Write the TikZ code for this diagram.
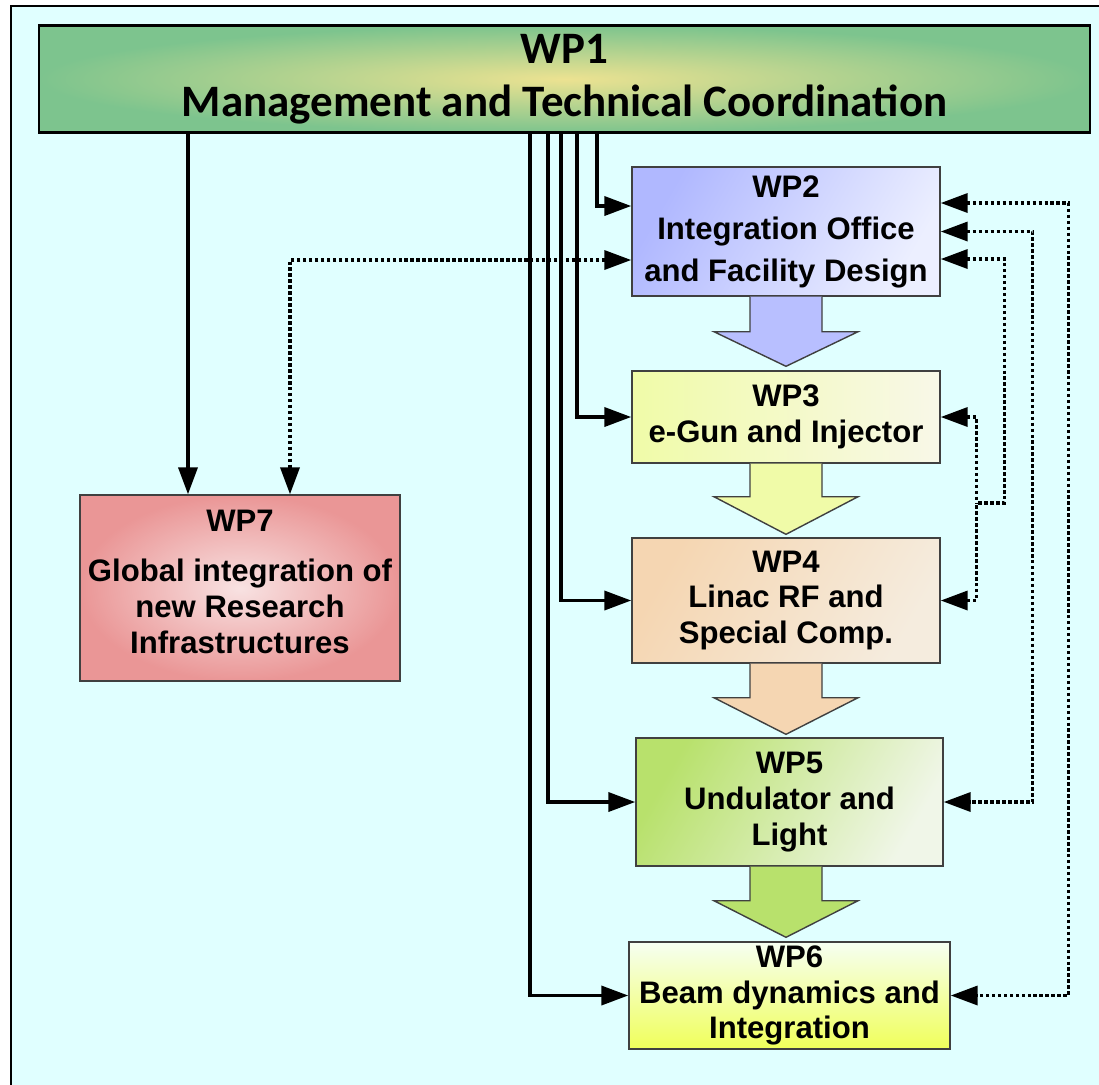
\documentclass[tikz,border=0pt]{standalone}
\usepackage{fontspec}
\setmainfont{Liberation Sans}
\newfontfamily\wponefont{Carlito}
\usepackage{tikz}
\usetikzlibrary{positioning, calc, arrows.meta}

\definecolor{panelcyan}{RGB}{224,255,255}
\definecolor{wponeedge}{RGB}{125,196,142}
\definecolor{wponemid}{RGB}{236,226,145}
\definecolor{wptwodark}{RGB}{176,184,255}
\definecolor{wptwolight}{RGB}{236,239,255}
\definecolor{wpthreedark}{RGB}{240,251,168}
\definecolor{wpthreelight}{RGB}{248,248,232}
\definecolor{wpfourdark}{RGB}{245,214,178}
\definecolor{wpfourlight}{RGB}{245,236,222}
\definecolor{wpfivedark}{RGB}{184,225,108}
\definecolor{wpfivelight}{RGB}{240,246,232}
\definecolor{wpsixdark}{RGB}{240,255,90}
\definecolor{wpsixlight}{RGB}{246,255,242}
\definecolor{wpsevenedge}{RGB}{234,150,150}
\definecolor{wpsevenmid}{RGB}{248,226,226}

\begin{document}
\begin{tikzpicture}[node distance = 2cm, on grid,
    wp/.style={draw=black!75, line width=0.4pt, align=center, inner sep=0pt,
               font=\fontsize{8.85}{10.2}\selectfont\bfseries},
    link/.style={line width=1.05pt, -{Triangle[length=0.27cm,width=0.19cm]}},
    duallink/.style={line width=1pt, dash pattern=on 1pt off 0.7pt,
               {Triangle[length=0.27cm,width=0.19cm]}-{Triangle[length=0.27cm,width=0.19cm]}},
    dotlink/.style={line width=1pt, dash pattern=on 1pt off 0.7pt,
               {Triangle[length=0.27cm,width=0.19cm]}-},
    flow/.style={draw=black!75, line width=0.4pt}]

    \useasboundingbox (0,0) rectangle (10.99,-10.84);
    \fill[white] (0,0) rectangle (10.99,-10.84);
    \draw[line width=0.6pt, fill=panelcyan] (0.11,-0.06) rectangle (11.3,-11.0);

    \node[wp, draw=black, line width=0.6pt, minimum width=10.51cm, minimum height=1.07cm,
          inner color=wponemid, outer color=wponeedge,
          font=\wponefont\fontsize{12.8}{15}\selectfont\bfseries] (wp1) at (5.645,-0.79)
          {WP1\\Management and Technical Coordination};

    %colonna a destra
    \node[wp, minimum width=3.08cm, minimum height=1.29cm, left color=wptwodark, right color=wptwolight,
          shading angle=60] (wp2) [below = 1.525cm of wp1, xshift = 2.215cm]
          {WP2\\[2pt]Integration Office\\[1.5pt]and Facility Design};
    \node[wp, minimum width=3.08cm, minimum height=0.92cm, left color=wpthreedark, right color=wpthreelight]
          (wp3) [below = 1.855cm of wp2] {WP3\\e-Gun and Injector};
    \node[wp, minimum width=3.08cm, minimum height=1.25cm, left color=wpfourdark, right color=wpfourlight,
          shading angle=60] (wp4) [below = 1.835cm of wp3] {WP4\\Linac RF and\\Special Comp.};
    \node[wp, minimum width=3.07cm, minimum height=1.28cm, left color=wpfivedark, right color=wpfivelight,
          shading angle=60] (wp5) [below = 2.015cm of wp4, xshift = 0.035cm] {WP5\\Undulator and\\Light};
    \node[wp, minimum width=3.21cm, minimum height=1.07cm, bottom color=wpsixdark, top color=wpsixlight]
          (wp6) [below = 1.935cm of wp5] {WP6\\Beam dynamics and\\Integration};

    %colonna a sinistra
    \node[wp, minimum width=3.20cm, minimum height=1.86cm, inner color=wpsevenmid, outer color=wpsevenedge]
          (wp7) [left = 5.46cm of wp4, yshift = 0.125cm]
          {WP7\\[4pt]Global integration of\\new Research\\Infrastructures\\[-6.5pt]\mbox{}};

    %frecce larghe
    \path[flow, fill=wptwodark!90!white] ($(wp2.south)+(-0.36,0)$) -- ++(0,-0.35) -- ++(-0.36,0)
          -- ($(wp3.north)+(0,0.04)$) -- ($(wp2.south)+(0.72,-0.35)$) -- ++(-0.36,0) -- ++(0,0.35);
    \path[flow, fill=wpthreedark] ($(wp3.south)+(-0.36,0)$) -- ++(0,-0.33) -- ++(-0.36,0)
          -- ($(wp4.north)+(0,0.03)$) -- ($(wp3.south)+(0.72,-0.33)$) -- ++(-0.36,0) -- ++(0,0.33);
    \path[flow, fill=wpfourdark] ($(wp4.south)+(-0.36,0)$) -- ++(0,-0.34) -- ++(-0.36,0)
          -- ($(wp5.north)+(-0.035,0.03)$) -- ($(wp4.south)+(0.72,-0.34)$) -- ++(-0.36,0) -- ++(0,0.34);
    \path[flow, fill=wpfivedark] ($(wp5.south)+(-0.395,0)$) -- ++(0,-0.34) -- ++(-0.36,0)
          -- ($(wp6.north)+(-0.035,0.04)$) -- ($(wp5.south)+(0.685,-0.34)$) -- ++(-0.36,0) -- ++(0,0.34);

    %collegamenti da WP1
    \draw[link] ($(wp1.south)+(-3.765,0)$) -- ($(wp7.north)+(-0.52,0)$);
    \draw[link] ($(wp1.south)+(0.325,0)$) |- ($(wp2.west)+(0,0.255)$);
    \draw[link] ($(wp1.south)+(0.125,0)$) |- (wp3.west);
    \draw[link] ($(wp1.south)+(-0.035,0)$) |- (wp4.west);
    \draw[link] ($(wp1.south)+(-0.165,0)$) |- (wp5.west);
    \draw[link] ($(wp1.south)+(-0.345,0)$) |- (wp6.west);

    %collegamenti tratteggiati
    \draw[duallink] ($(wp2.west)+(0,-0.285)$) -| ($(wp7.north)+(0.5,0)$);
    \draw[duallink] ($(wp2.east)+(0,0.285)$) -- ++(1.28,0) |- (wp6.east);
    \draw[duallink] (wp2.east) -- ++(0.92,0) |- (wp5.east);
    \draw[dotlink] ($(wp2.east)+(0,-0.275)$) -- ++(0.64,0) -- ++(0,-2.44) -- ++(-0.28,0) coordinate (j34);
    \draw[dotlink] (wp3.east) -| (j34);
    \draw[dotlink] (wp4.east) -| (j34);
\end{tikzpicture}
\end{document}
